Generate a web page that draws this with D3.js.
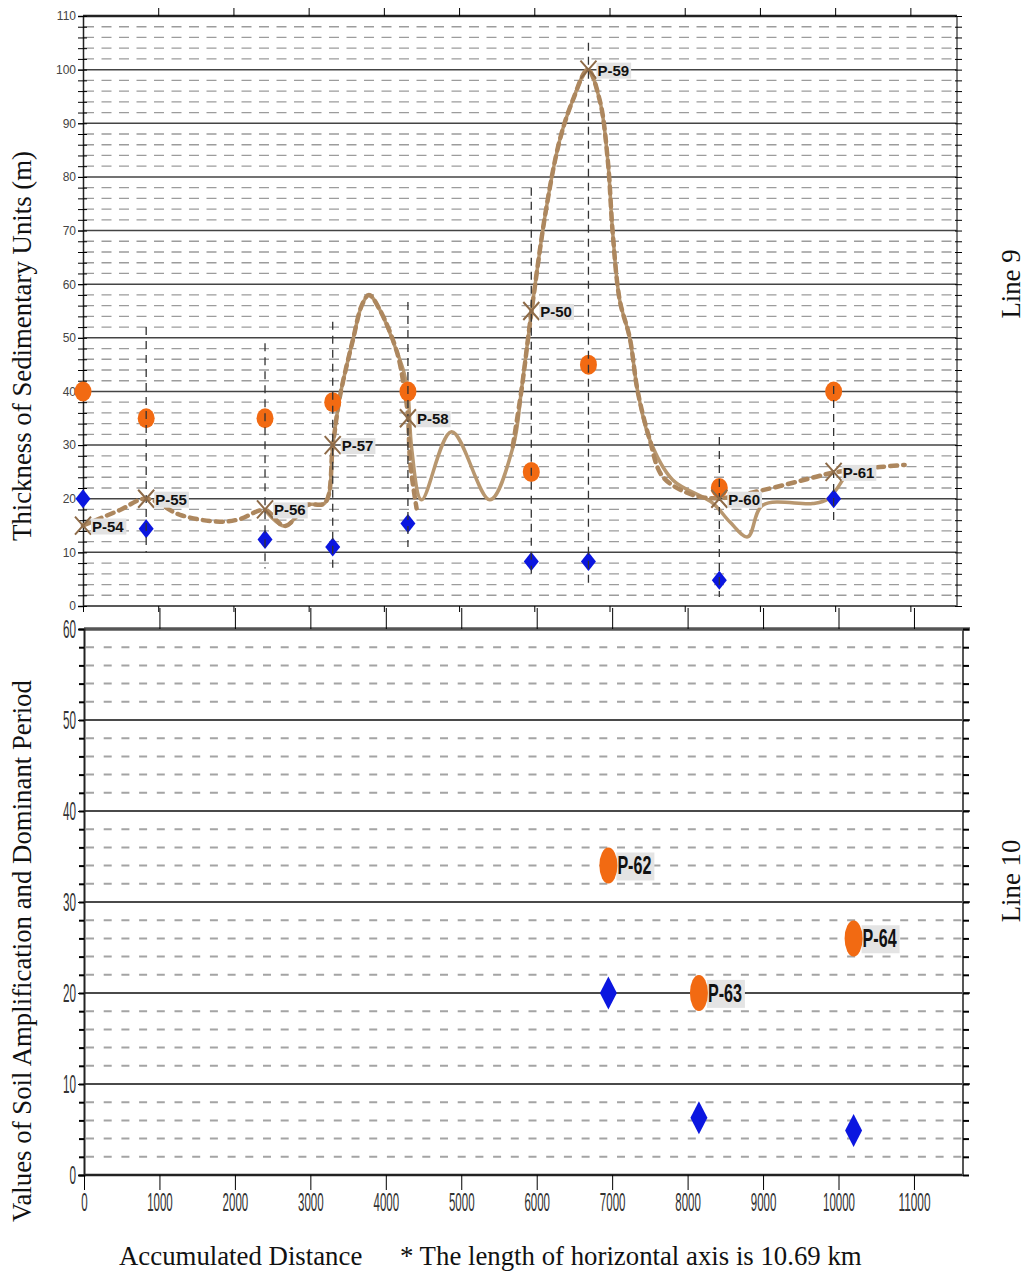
<!DOCTYPE html>
<html>
<head>
<meta charset="utf-8">
<script src="https://cdn.jsdelivr.net/npm/d3@7"></script>
<style>
  body { margin: 0; background: #fff; }
  svg { display: block; }
</style>
</head>
<body>
<svg id="chart" width="1029" height="1274"></svg>
<script>
// ---- Line 9 (top panel) ----
const stations = ["P-54", "P-55", "P-56", "P-57", "P-58", "P-50", "P-59", "P-60", "P-61"];
const distance = [0, 840, 2420, 3320, 4320, 5960, 6720, 8460, 9980];
const amplification = [40, 35, 35, 38, 40, 25, 45, 22, 40];   // orange
const period = [20, 14.4, 12.4, 11, 15.4, 8.3, 8.3, 4.8, 20];  // blue
const thickness = [15, 20, 18, 30, 35, 55, 100, 20, 25];       // brown crosses
const spanTop = [null, 52, 49, 53, 56.7, 78, 105, 31.5, 41];
const spanBottom = [null, 10, 7, 7, 11, 5, 4, 1.7, 15.5];

// solid thickness profile
const solidX = [2419, 2684, 2977, 3216, 3322, 3415, 3588, 3708, 3801, 3947, 4173, 4266, 4319, 4372, 4501, 4900, 5409, 5718, 5830, 5963, 6162, 6339, 6512, 6711, 6870, 6977, 7043, 7136, 7269, 7375, 7535, 7841, 8372, 8598, 8837, 9036, 9701, 9900, 10100];
const solidY = [17.9, 14.9, 18.8, 19.2, 30, 39, 49.6, 56.1, 58, 55.2, 47.4, 43.6, 39.9, 29.1, 19.8, 32.5, 19.8, 29.7, 40.3, 54.9, 74.4, 86.9, 94.3, 100, 94.3, 83.1, 69.5, 57, 50, 40, 31, 23.5, 19.2, 15.7, 12.9, 18.8, 19.1, 19.9, 23.5];

// dashed thickness profile (two pieces)
const dashAX = [0, 492, 837, 1289, 1821, 2086, 2419, 2684, 2977, 3216, 3322, 3415, 3588, 3708, 3801, 3947, 4173, 4266, 4319, 4350, 4435];
const dashAY = [15, 17.9, 20, 17, 15.7, 16.2, 17.9, 14.9, 18.8, 19.2, 30, 39, 49.6, 56.1, 58, 55.2, 47.4, 41, 35.6, 26.7, 18.2];
const dashBX = [5714, 5830, 5963, 6162, 6339, 6512, 6711, 6870, 6977, 7043, 7136, 7269, 7375, 7535, 7708, 8106, 8465, 9036, 9750, 9980, 10591, 10924];
const dashBY = [29.8, 40.3, 54.9, 74.4, 86.9, 94.3, 100, 94.3, 83.1, 69.5, 57, 50, 40, 31, 24.1, 20.7, 20.1, 21.6, 24.1, 24.9, 25.9, 26.3];

// ---- Line 10 (bottom panel) ----
const stations2 = ["P-62", "P-63", "P-64"];
const distance2 = [6950, 8150, 10200];
const amplification2 = [34, 20, 26];
const period2 = [20, 6.3, 4.9];

const xTicks = d3.range(0, 11001, 1000);

const svg = d3.select("#chart");
const sans = "'Liberation Sans', Arial, sans-serif";
const serif = "'Liberation Serif', 'Times New Roman', serif";
const orange = "#f26a12";
const blue = "#0b16e0";
const brown = "#b8976f";

const xTop = d3.scaleLinear().domain([0, 11620]).range([83, 957]);
const yTop = d3.scaleLinear().domain([0, 110]).range([606, 16]);
const xBot = d3.scaleLinear().domain([0, 11650]).range([84, 963]);
const yBot = d3.scaleLinear().domain([0, 60]).range([1175, 629]);

const diamond = (w, h) => `M0,${-h / 2}L${w / 2},0L0,${h / 2}L${-w / 2},0Z`;

// ================= top panel =================
const g1 = svg.append("g");

g1.selectAll(".minor")
    .data(d3.range(2, 110, 2).filter(v => v % 10))
    .join("line")
    .attr("x1", 84).attr("x2", 957)
    .attr("y1", d => yTop(d)).attr("y2", d => yTop(d))
    .attr("stroke", "#9c9c9c")
    .attr("stroke-width", 1.3)
    .attr("stroke-dasharray", "10,7.5");

g1.selectAll(".major")
    .data(d3.range(10, 101, 10))
    .join("line")
    .attr("x1", 83).attr("x2", 957)
    .attr("y1", d => yTop(d)).attr("y2", d => yTop(d))
    .attr("stroke", "#444")
    .attr("stroke-width", 1.5);

g1.append("line").attr("x1", 83).attr("x2", 957).attr("y1", yTop(110)).attr("y2", yTop(110))
    .attr("stroke", "#222").attr("stroke-width", 2.5);
g1.append("line").attr("x1", 83).attr("x2", 957).attr("y1", yTop(0)).attr("y2", yTop(0))
    .attr("stroke", "#222").attr("stroke-width", 1.5);
g1.append("line").attr("x1", 957).attr("x2", 957).attr("y1", yTop(110)).attr("y2", yTop(0))
    .attr("stroke", "#555").attr("stroke-width", 1.5);

// left axis
const yAxisTop = g1.append("g")
    .attr("transform", "translate(83,0)")
    .call(d3.axisLeft(yTop).tickValues(d3.range(0, 111, 10)).tickSize(5).tickPadding(2));
yAxisTop.selectAll("text").attr("font-family", sans).attr("font-size", 12).attr("fill", "#444");
yAxisTop.select(".domain").attr("stroke", "#222").attr("stroke-width", 1.5);
g1.append("g")
    .attr("transform", "translate(83,0)")
    .call(d3.axisLeft(yTop).tickValues(d3.range(0, 111, 2)).tickSize(5).tickFormat(""))
    .call(a => a.select(".domain").remove());
g1.append("g")
    .attr("transform", "translate(83,0)")
    .call(d3.axisRight(yTop).tickValues(d3.range(0, 111, 2)).tickSize(4).tickFormat(""))
    .call(a => a.select(".domain").remove());

// right axis ticks
g1.append("g")
    .attr("transform", "translate(957,0)")
    .call(d3.axisRight(yTop).tickValues(d3.range(0, 111, 2)).tickSize(5).tickFormat(""))
    .call(a => a.select(".domain").remove());
g1.append("g")
    .attr("transform", "translate(957,0)")
    .call(d3.axisLeft(yTop).tickValues(d3.range(0, 111, 2)).tickSize(2).tickFormat(""))
    .call(a => a.select(".domain").remove());

// x ticks, no labels
g1.append("g")
    .attr("transform", `translate(0,${yTop(110)})`)
    .call(d3.axisTop(xTop).tickValues(xTicks.slice(1)).tickSize(8).tickFormat(""))
    .call(a => a.select(".domain").remove());
g1.append("g")
    .attr("transform", `translate(0,${yTop(0)})`)
    .call(d3.axisBottom(xTop).tickValues(xTicks).tickSize(6).tickFormat(""))
    .call(a => a.select(".domain").remove());

// profiles
const lineTop = d3.line()
    .x(d => xTop(d[0]))
    .y(d => yTop(d[1]))
    .curve(d3.curveCatmullRom.alpha(0.5));

g1.append("path")
    .attr("d", lineTop(d3.zip(solidX, solidY)))
    .attr("fill", "none")
    .attr("stroke", brown)
    .attr("stroke-width", 3.5)
    .attr("stroke-linejoin", "round");

[[dashAX, dashAY], [dashBX, dashBY]].forEach(([xs, ys]) => {
    g1.append("path")
        .attr("d", lineTop(d3.zip(xs, ys)))
        .attr("fill", "none")
        .attr("stroke", "#ad875e")
        .attr("stroke-width", 4.5)
        .attr("stroke-dasharray", "7,6")
        .attr("stroke-linecap", "round");
});

const top9 = stations.map((s, i) => ({
    name: s, x: distance[i], amp: amplification[i], per: period[i],
    th: thickness[i], s0: spanTop[i], s1: spanBottom[i]
}));

g1.selectAll(".amp")
    .data(top9)
    .join("ellipse")
    .attr("cx", d => xTop(d.x))
    .attr("cy", d => yTop(d.amp))
    .attr("rx", 8.5).attr("ry", 10)
    .attr("fill", orange);

g1.selectAll(".per")
    .data(top9)
    .join("path")
    .attr("transform", d => `translate(${xTop(d.x)},${yTop(d.per)})`)
    .attr("d", diamond(15, 19))
    .attr("fill", blue);

g1.selectAll(".span")
    .data(top9.filter(d => d.s0 !== null))
    .join("line")
    .attr("x1", d => xTop(d.x)).attr("x2", d => xTop(d.x))
    .attr("y1", d => yTop(d.s0)).attr("y2", d => yTop(d.s1))
    .attr("stroke", "#333")
    .attr("stroke-width", 1.3)
    .attr("stroke-dasharray", "8,6");

g1.selectAll(".cross")
    .data(top9)
    .join("path")
    .attr("transform", d => `translate(${xTop(d.x)},${yTop(d.th)})`)
    .attr("d", "M-8,-9L8,9M-8,9L8,-9")
    .attr("stroke", "#8e6b48")
    .attr("stroke-width", 2)
    .attr("fill", "none");

const labels1 = g1.selectAll(".lab")
    .data(top9)
    .join("g")
    .attr("transform", d => `translate(${xTop(d.x) + 9},${yTop(d.th) + 2})`);
labels1.append("text")
    .attr("dominant-baseline", "middle")
    .attr("font-family", sans)
    .attr("font-weight", "bold")
    .attr("font-size", 15)
    .attr("fill", "#111")
    .text(d => d.name);
labels1.each(function () {
    const t = d3.select(this).select("text");
    const b = t.node().getBBox();
    d3.select(this).insert("rect", "text")
        .attr("x", b.x - 1).attr("y", b.y + 1)
        .attr("width", b.width + 3).attr("height", b.height - 1)
        .attr("fill", "#e2e2e2");
});

// ================= bottom panel =================
const g2 = svg.append("g");

g2.selectAll(".minor")
    .data(d3.range(2, 60, 2).filter(v => v % 10))
    .join("line")
    .attr("x1", 86).attr("x2", 963)
    .attr("y1", d => yBot(d)).attr("y2", d => yBot(d))
    .attr("stroke", "#a4a4a4")
    .attr("stroke-width", 2)
    .attr("stroke-dasharray", "8,9.7");

g2.selectAll(".major")
    .data(d3.range(10, 51, 10))
    .join("line")
    .attr("x1", 84).attr("x2", 970)
    .attr("y1", d => yBot(d)).attr("y2", d => yBot(d))
    .attr("stroke", "#4a4a4a")
    .attr("stroke-width", 2);

g2.append("line").attr("x1", 84).attr("x2", 970).attr("y1", yBot(60)).attr("y2", yBot(60))
    .attr("stroke", "#555").attr("stroke-width", 3.5);
g2.append("line").attr("x1", 84).attr("x2", 963).attr("y1", yBot(0)).attr("y2", yBot(0))
    .attr("stroke", "#222").attr("stroke-width", 2.5);
g2.append("line").attr("x1", 963).attr("x2", 963).attr("y1", yBot(60)).attr("y2", yBot(0))
    .attr("stroke", "#555").attr("stroke-width", 2);

const yAxisBot = g2.append("g")
    .attr("transform", "translate(84,0)")
    .call(d3.axisLeft(yBot).tickValues(d3.range(0, 61, 10)).tickSize(6).tickPadding(2));
yAxisBot.select(".domain").attr("stroke", "#222").attr("stroke-width", 2);
yAxisBot.selectAll("text")
    .attr("font-family", sans)
    .attr("font-size", 25)
    .attr("fill", "#333")
    .attr("textLength", function () { return this.textContent.length * 6.5; })
    .attr("lengthAdjust", "spacingAndGlyphs");
g2.append("g")
    .attr("transform", "translate(84,0)")
    .call(d3.axisLeft(yBot).tickValues(d3.range(0, 61, 2)).tickSize(5).tickFormat(""))
    .call(a => a.select(".domain").remove())
    .selectAll("line").attr("stroke-width", 2);
g2.append("g")
    .attr("transform", "translate(963,0)")
    .call(d3.axisRight(yBot).tickValues(d3.range(0, 61, 2)).tickSize(6).tickFormat(""))
    .call(a => a.select(".domain").remove())
    .selectAll("line").attr("stroke-width", 2);

g2.append("g")
    .attr("transform", `translate(0,${yBot(60)})`)
    .call(d3.axisTop(xBot).tickValues(xTicks.slice(1)).tickSize(21).tickFormat(""))
    .call(a => a.select(".domain").remove());

const xAxisBot = g2.append("g")
    .attr("transform", `translate(0,${yBot(0)})`)
    .call(d3.axisBottom(xBot).tickValues(xTicks).tickSize(15).tickPadding(3).tickFormat(d3.format("d")));
xAxisBot.select(".domain").remove();
xAxisBot.selectAll("text")
    .attr("font-family", sans)
    .attr("font-size", 25)
    .attr("fill", "#333")
    .attr("textLength", function () { return this.textContent.length * 6.4; })
    .attr("lengthAdjust", "spacingAndGlyphs");

const bot10 = stations2.map((s, i) => ({
    name: s, x: distance2[i], amp: amplification2[i], per: period2[i]
}));

g2.selectAll(".per")
    .data(bot10)
    .join("path")
    .attr("transform", d => `translate(${xBot(d.x)},${yBot(d.per)})`)
    .attr("d", diamond(17, 33))
    .attr("fill", blue);

const labels2 = g2.selectAll(".lab")
    .data(bot10)
    .join("g")
    .attr("transform", d => `translate(${xBot(d.x) + 9},${yBot(d.amp) + 2})`);
labels2.append("text")
    .attr("dominant-baseline", "middle")
    .attr("font-family", sans)
    .attr("font-weight", "bold")
    .attr("font-size", 26)
    .attr("fill", "#111")
    .attr("textLength", 34)
    .attr("lengthAdjust", "spacingAndGlyphs")
    .text(d => d.name);
labels2.each(function () {
    const b = d3.select(this).select("text").node().getBBox();
    d3.select(this).insert("rect", "text")
        .attr("x", -1).attr("y", b.y + 2)
        .attr("width", 38).attr("height", b.height - 2)
        .attr("fill", "#e4e4e4");
});

g2.selectAll(".amp")
    .data(bot10)
    .join("ellipse")
    .attr("cx", d => xBot(d.x))
    .attr("cy", d => yBot(d.amp))
    .attr("rx", 9).attr("ry", 18)
    .attr("fill", orange);

// ================= titles =================
const title = (t, tr, anchor) => svg.append("text")
    .attr("transform", tr)
    .attr("text-anchor", anchor)
    .attr("font-family", serif)
    .attr("font-size", 26.8)
    .attr("fill", "#111")
    .text(t);

title("Thickness of Sedimentary Units (m)", "translate(31,346) rotate(-90)", "middle");
title("Values of Soil Amplification and Dominant Period", "translate(31,951) rotate(-90)", "middle");
title("Line 9", "translate(1020,284) rotate(-90)", "middle");
title("Line 10", "translate(1020,881) rotate(-90)", "middle");
title("Accumulated Distance", "translate(119,1265)", "start");
title("* The length of horizontal axis is 10.69 km", "translate(400,1265)", "start");
</script>
</body>
</html>
